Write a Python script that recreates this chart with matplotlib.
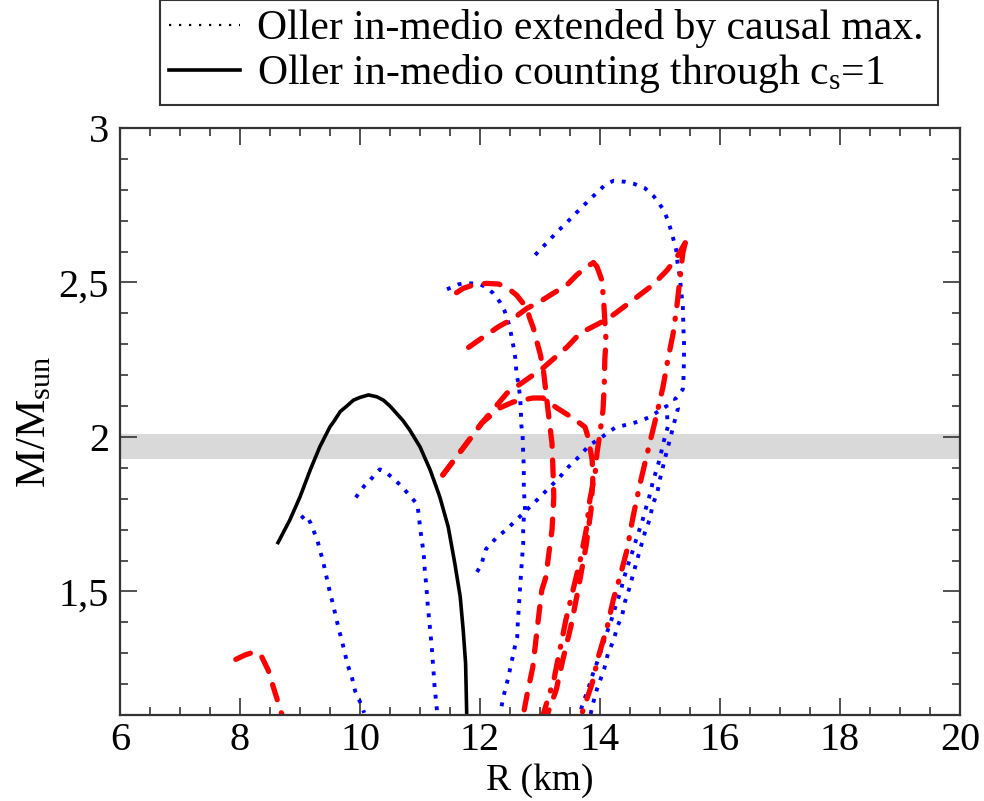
import numpy as np
import matplotlib
matplotlib.use("Agg")
import matplotlib.pyplot as plt
from matplotlib.lines import Line2D
from matplotlib.ticker import MultipleLocator, FuncFormatter

plt.rcParams['font.family'] = ['Liberation Serif', 'DejaVu Serif']
plt.rcParams['mathtext.fontset'] = 'custom'
plt.rcParams['mathtext.rm'] = 'Liberation Serif'
plt.rcParams['mathtext.it'] = 'Liberation Serif:italic'

# --- data (R in km, M in solar masses) ---
# solid black: counting through c_s = 1
black_r = [8.62, 8.83, 9.00, 9.17, 9.33, 9.50, 9.56, 9.67, 9.78, 9.89, 10.00, 10.14,
           10.28, 10.39, 10.50, 10.61, 10.72, 10.83, 11.00, 11.17, 11.33, 11.47, 11.58,
           11.67, 11.72, 11.76, 11.78]
black_m = [1.653, 1.731, 1.806, 1.893, 1.968, 2.033, 2.049, 2.082, 2.100, 2.119, 2.128, 2.136,
           2.130, 2.119, 2.100, 2.076, 2.052, 2.022, 1.968, 1.893, 1.806, 1.709, 1.591,
           1.483, 1.375, 1.267, 1.09]

# blue dotted: extended by causal max.
blue1_r = [9.02, 9.08, 9.12, 9.18, 9.24, 9.29, 9.33, 9.38, 9.42, 9.46, 9.50,
           9.55, 9.60, 9.65, 9.70, 9.75, 9.79, 9.86, 9.92, 10.00, 10.07]
blue1_m = [1.736, 1.747, 1.742, 1.720, 1.690, 1.666, 1.634, 1.601, 1.566, 1.531, 1.496,
           1.459, 1.416, 1.375, 1.339, 1.299, 1.264, 1.226, 1.177, 1.143, 1.107]

blue2_r = [9.93, 10.00, 10.07, 10.17, 10.25, 10.33, 10.43, 10.57, 10.70, 10.82, 10.95,
           10.98, 11.00, 11.03, 11.06, 11.08, 11.10, 11.12, 11.13, 11.16, 11.18,
           11.20, 11.23, 11.24, 11.28, 11.29]
blue2_m = [1.804, 1.823, 1.841, 1.860, 1.879, 1.895, 1.886, 1.863, 1.839, 1.812, 1.783,
           1.749, 1.707, 1.666, 1.625, 1.569, 1.529, 1.481, 1.453, 1.394, 1.353,
           1.308, 1.229, 1.199, 1.121, 1.102]

blue3_r = [11.45, 11.55, 11.64, 11.75, 11.86, 11.99, 12.11, 12.22, 12.33, 12.41, 12.48,
           12.52, 12.56, 12.59, 12.61, 12.64, 12.67, 12.68, 12.69, 12.71, 12.72, 12.73,
           12.73, 12.73, 12.75, 12.73, 12.72, 12.72, 12.70, 12.68, 12.63, 12.62, 12.58,
           12.53, 12.47, 12.38, 12.35]
blue3_m = [2.478, 2.486, 2.494, 2.497, 2.497, 2.495, 2.484, 2.465, 2.437, 2.408, 2.366,
           2.331, 2.290, 2.253, 2.200, 2.175, 2.125, 2.087, 2.036, 2.006, 1.945, 1.904,
           1.854, 1.831, 1.770, 1.737, 1.699, 1.653, 1.604, 1.546, 1.398, 1.352, 1.320,
           1.275, 1.220, 1.151, 1.116]

blue4_r = [11.95, 12.02, 12.05, 12.08, 12.10, 12.27, 12.45, 12.62, 12.95, 13.13, 13.32,
           13.47, 13.66, 13.81, 14.04, 14.25, 14.67, 14.83, 15.11, 15.13, 15.06, 14.99,
           14.88, 14.82, 14.77, 14.70, 14.62, 14.55, 14.45, 14.38, 14.35, 14.27, 14.20,
           14.13, 14.05, 13.97, 13.88, 13.80, 13.70, 13.66]
blue4_m = [1.563, 1.585, 1.605, 1.621, 1.637, 1.673, 1.702, 1.734, 1.796, 1.831, 1.868,
           1.902, 1.938, 1.971, 2.001, 2.030, 2.051, 2.065, 2.100, 2.033, 1.984, 1.925,
           1.854, 1.805, 1.773, 1.724, 1.679, 1.634, 1.576, 1.530, 1.504, 1.459, 1.414,
           1.375, 1.330, 1.280, 1.232, 1.183, 1.129, 1.100]

blue5_r = [12.92, 13.04, 13.16, 13.28, 13.41, 13.54, 13.67, 13.81, 13.95, 14.08, 14.22,
           14.42, 14.57, 14.75, 14.90, 15.06, 15.14, 15.21, 15.27, 15.29, 15.33, 15.36,
           15.38, 15.39, 15.40, 15.40, 15.39, 15.38, 15.25, 15.30, 15.23, 15.17, 15.09,
           15.00, 14.95, 14.88, 14.83, 14.75, 14.68, 14.60, 14.53, 14.50, 14.42, 14.37,
           14.30, 14.22, 14.13, 14.07, 13.98, 13.95, 13.88, 13.84]
blue5_m = [2.589, 2.614, 2.637, 2.664, 2.686, 2.713, 2.738, 2.765, 2.791, 2.815, 2.829,
           2.826, 2.819, 2.805, 2.778, 2.735, 2.697, 2.650, 2.605, 2.567, 2.519, 2.459,
           2.427, 2.352, 2.303, 2.249, 2.184, 2.154, 2.122, 2.093, 2.041, 1.995, 1.936,
           1.864, 1.815, 1.783, 1.734, 1.692, 1.644, 1.589, 1.540, 1.517, 1.469, 1.423,
           1.391, 1.339, 1.297, 1.249, 1.200, 1.184, 1.135, 1.100]

# red dashed / dash-dot
red1_r = [7.93, 8.08, 8.25, 8.36, 8.47, 8.58, 8.70]
red1_m = [1.280, 1.294, 1.305, 1.289, 1.245, 1.175, 1.100]

red2_r = [11.38, 11.78, 12.03, 12.33, 12.55, 12.88, 13.05, 13.28, 13.55, 13.75, 13.80,
          13.87, 13.88, 13.85, 13.77, 13.65, 13.52, 13.38, 13.27, 13.12]
red2_m = [1.877, 1.980, 2.045, 2.094, 2.113, 2.126, 2.126, 2.094, 2.061, 2.032, 2.000,
          1.925, 1.860, 1.763, 1.650, 1.521, 1.391, 1.278, 1.181, 1.100]

red3a_r = [11.38, 11.78, 12.03, 12.45, 12.72, 13.05, 13.45, 13.67, 14.00, 14.22, 14.55,
           14.88, 15.12, 15.28, 15.42]
red3a_m = [1.877, 1.980, 2.045, 2.142, 2.178, 2.223, 2.291, 2.336, 2.369, 2.395, 2.443,
           2.492, 2.540, 2.582, 2.628]
red3b_r = [15.42, 15.38, 15.33, 15.28, 15.22, 15.13, 15.05, 14.95, 14.78, 14.67, 14.55,
           14.45, 14.33, 14.22, 14.12, 13.97, 13.87, 13.70]
red3b_m = [2.628, 2.595, 2.508, 2.421, 2.336, 2.249, 2.162, 2.077, 1.941, 1.851, 1.741,
           1.634, 1.546, 1.472, 1.385, 1.287, 1.203, 1.106]

red4_r = [11.61, 11.72, 11.89, 12.11, 12.31, 12.47, 12.61, 12.72, 12.78, 12.83, 12.89,
          12.94, 13.00, 13.05, 13.14, 13.20, 13.22, 13.23, 13.20, 13.14, 13.10, 13.03,
          12.97, 12.88, 12.80, 12.72]
red4_m = [2.467, 2.481, 2.492, 2.497, 2.495, 2.481, 2.459, 2.432, 2.416, 2.384, 2.352,
          2.314, 2.271, 2.227, 2.076, 1.979, 1.871, 1.806, 1.699, 1.612, 1.548, 1.504,
          1.407, 1.255, 1.181, 1.100]

red5a_r = [11.81, 12.06, 12.31, 12.56, 12.78, 13.00, 13.22, 13.45, 13.61, 13.78, 13.89]
red5a_m = [2.290, 2.324, 2.357, 2.384, 2.416, 2.438, 2.465, 2.492, 2.524, 2.551, 2.564]
red5b_r = [13.89, 13.95, 14.03, 14.06, 14.08, 14.10, 14.08, 14.07, 14.05, 14.00, 13.95,
           13.92, 13.83, 13.77, 13.67, 13.55, 13.43, 13.33, 13.23, 13.05]
red5b_m = [2.564, 2.551, 2.508, 2.443, 2.378, 2.314, 2.249, 2.162, 2.087, 2.013, 1.948,
           1.883, 1.796, 1.699, 1.601, 1.504, 1.407, 1.310, 1.213, 1.100]

# observational band (2 M_sun pulsar)
band_lo, band_hi = 1.93, 2.01

legend_labels = ["Oller in-medio extended by causal max.",
                 r"Oller in-medio counting through c$_{\rm s}$=1"]

# --- figure ---
fig = plt.figure(figsize=(9.84, 8.01), dpi=100)
ax = fig.add_axes([120/984, 1 - 715/801, 840/984, 587/801])

ax.axhspan(band_lo, band_hi, color='#d9d9d9', lw=0, zorder=0)

dot = dict(color='#0000ff', lw=2.8, linestyle=(0, (1, 2.0)), dash_capstyle='butt')
for r, m in [(blue1_r, blue1_m), (blue2_r, blue2_m), (blue3_r, blue3_m),
             (blue4_r, blue4_m), (blue5_r, blue5_m)]:
    ax.plot(r, m, **dot)

dash = dict(color='#ff0000', lw=3.8, linestyle=(0, (3.0, 2.6)), dash_capstyle='round')
dashdot = dict(color='#ff0000', lw=3.8, linestyle=(0, (3.5, 2.4, 0.2, 2.4)),
               dash_capstyle='round')
for r, m in [(red1_r, red1_m), (red2_r, red2_m), (red3a_r, red3a_m),
             (red4_r, red4_m), (red5a_r, red5a_m)]:
    ax.plot(r, m, **dash)
for r, m in [(red3b_r, red3b_m), (red5b_r, red5b_m)]:
    ax.plot(r, m, **dashdot)

ax.plot(black_r, black_m, color='black', lw=2.6, solid_capstyle='butt',
        solid_joinstyle='round')

ax.set_xlim(6, 20)
ax.set_ylim(1.1, 3)
ax.xaxis.set_major_locator(MultipleLocator(2))
ax.xaxis.set_minor_locator(MultipleLocator(0.5))
ax.yaxis.set_major_locator(MultipleLocator(0.5))
ax.yaxis.set_minor_locator(MultipleLocator(0.1))
ax.yaxis.set_major_formatter(FuncFormatter(lambda v, p: ('%g' % v).replace('.', ',')))
ax.tick_params(which='both', direction='in', top=True, right=True, width=1.2,
               color='#333333', labelsize=29)
ax.tick_params(which='major', length=12)
ax.tick_params(which='minor', length=6)
ax.tick_params(axis='x', pad=5)
ax.tick_params(axis='y', pad=8)
for s in ax.spines.values():
    s.set_linewidth(1.6)
    s.set_color('#333333')

ax.set_xlabel('R (km)', fontsize=27)
ax.set_ylabel(r'M/M$_{\rm sun}$', fontsize=31)
ax.xaxis.set_label_coords(0.5, -0.083)
ax.yaxis.set_label_coords(-0.078, 0.5)

handles = [Line2D([], [], color='black', lw=1.6, linestyle=(0, (1, 3.5))),
           Line2D([], [], color='black', lw=2.6)]
leg = fig.legend(handles, legend_labels, loc='upper left',
                 bbox_to_anchor=(160/984, 1.0, 778/984, 0.0), mode='expand',
                 fontsize=30, frameon=True, fancybox=False, handlelength=1.7,
                 handletextpad=0.4, labelspacing=0.1, borderpad=0.22,
                 borderaxespad=0.0)
leg.get_frame().set_edgecolor('black')
leg.get_frame().set_linewidth(1.5)

fig.savefig('out.png', dpi=100)
